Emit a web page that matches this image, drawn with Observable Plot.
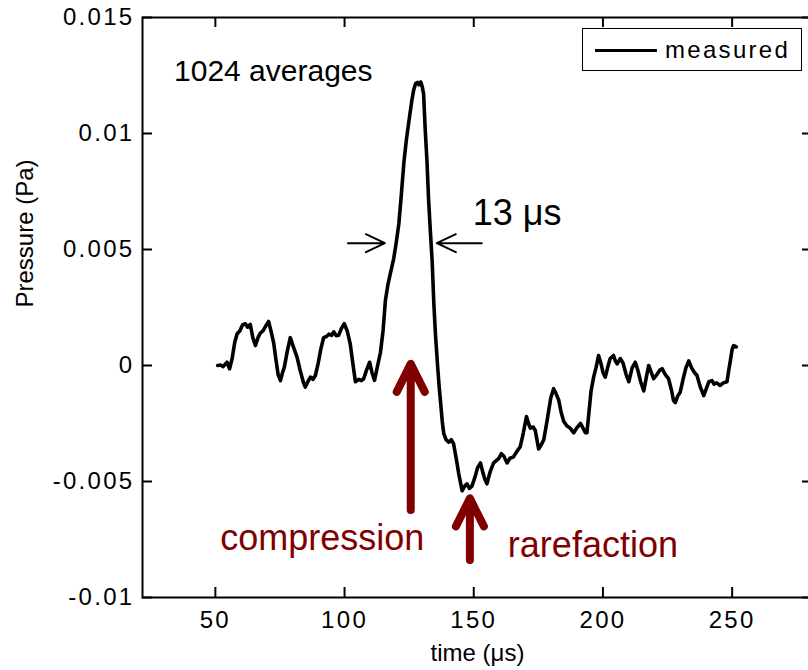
<!DOCTYPE html>
<html><head><meta charset="utf-8">
<script src="https://cdn.jsdelivr.net/npm/d3@7"></script>
<script src="https://cdn.jsdelivr.net/npm/@observablehq/plot@0.6"></script>
<style>
body{margin:0;overflow:hidden;background:#fff;font-family:Arial,"Liberation Sans",sans-serif}
#wrap{position:relative;width:808px;height:670px;overflow:hidden}
#wrap svg{max-width:none !important;height:670px !important}
g[aria-label="x-axis tick label"] text, g[aria-label="y-axis tick label"] text, g[aria-label="axis-title"] text{letter-spacing:2.3px}
g[aria-label="note"] text{letter-spacing:0.7px}
#legend{position:absolute;left:582px;top:28px;width:218px;height:41px;border:1.6px solid #000;background:#fff;box-sizing:content-box}
#legend .sw{position:absolute;left:12px;top:19.5px;width:62px;height:0;border-top:3px solid #000}
#legend .lb{position:absolute;left:82px;top:0;line-height:41px;font-size:24px;letter-spacing:2.3px;color:#000}
</style></head><body><div id="wrap"></div>
<script>
// measured trace: time (µs) and pressure (Pa)
const time = [50.9,52.0,53.0,54.5,55.5,56.5,57.5,58.4,59.5,60.5,61.6,62.5,63.5,64.5,65.5,66.5,67.4,68.5,69.5,70.6,71.5,72.6,73.5,74.3,75.2,76.0,76.7,77.8,79.0,80.2,81.6,82.8,84.0,84.8,85.8,86.8,87.8,88.7,89.8,90.8,91.9,93.0,94.0,95.0,95.8,96.8,97.7,98.8,99.9,101.0,102.2,103.2,104.2,105.5,106.5,107.4,108.5,109.7,110.6,111.6,112.8,113.9,114.9,115.8,116.8,117.8,119.0,120.0,121.0,122.0,123.0,124.0,125.0,126.0,126.8,127.5,128.2,128.8,129.5,130.1,130.6,131.2,131.9,132.5,133.2,133.9,134.5,135.2,136.0,136.6,137.1,137.8,138.4,139.3,140.3,141.3,142.2,143.2,144.2,145.5,146.5,147.4,148.3,149.3,150.5,151.5,152.6,153.5,154.3,155.1,156.3,157.7,158.7,159.7,160.7,161.6,162.9,164.0,165.3,166.7,168.0,169.2,170.4,171.2,171.9,173.0,173.8,175.1,176.2,177.1,178.5,179.8,180.9,181.8,182.9,183.8,184.8,186.0,187.3,188.7,189.8,191.3,192.3,193.2,193.8,194.6,195.4,196.4,197.3,198.3,199.2,200.0,200.9,201.8,202.8,204.1,204.8,205.5,206.7,207.8,209.0,210.0,211.3,212.5,213.5,214.6,215.8,216.8,217.7,218.7,219.6,220.8,222.0,222.9,224.2,225.4,226.6,227.3,228.0,229.0,229.9,231.0,232.1,233.2,234.3,235.4,236.4,237.6,239.0,240.0,241.0,242.2,243.0,244.0,245.4,246.6,248.0,248.7,249.3,250.0,250.6,251.6];
const pressure = [0.00000,0.00002,-0.00005,0.00014,-0.00014,0.00030,0.00100,0.00136,0.00150,0.00175,0.00180,0.00165,0.00177,0.00120,0.00086,0.00120,0.00140,0.00150,0.00170,0.00190,0.00150,0.00095,0.00020,-0.00040,-0.00065,-0.00030,-0.00007,0.00060,0.00120,0.00080,0.00036,-0.00020,-0.00070,-0.00093,-0.00070,-0.00050,-0.00060,-0.00043,0.00010,0.00070,0.00120,0.00125,0.00135,0.00130,0.00145,0.00128,0.00130,0.00160,0.00180,0.00150,0.00093,0.00010,-0.00070,-0.00060,-0.00065,-0.00057,-0.00020,0.00014,-0.00030,-0.00064,0.00000,0.00057,0.00150,0.00280,0.00350,0.00400,0.00460,0.00530,0.00610,0.00740,0.00880,0.00980,0.01060,0.01140,0.01190,0.01215,0.01220,0.01210,0.01222,0.01200,0.01170,0.01020,0.00880,0.00720,0.00580,0.00450,0.00280,0.00130,0.00000,-0.00090,-0.00150,-0.00240,-0.00294,-0.00320,-0.00330,-0.00320,-0.00338,-0.00400,-0.00467,-0.00540,-0.00520,-0.00510,-0.00530,-0.00520,-0.00480,-0.00440,-0.00420,-0.00460,-0.00490,-0.00510,-0.00460,-0.00420,-0.00410,-0.00400,-0.00380,-0.00390,-0.00420,-0.00400,-0.00395,-0.00370,-0.00350,-0.00290,-0.00220,-0.00250,-0.00270,-0.00265,-0.00280,-0.00360,-0.00340,-0.00320,-0.00230,-0.00140,-0.00100,-0.00120,-0.00150,-0.00200,-0.00240,-0.00260,-0.00270,-0.00290,-0.00270,-0.00250,-0.00270,-0.00290,-0.00290,-0.00200,-0.00110,-0.00050,-0.00010,0.00043,0.00010,-0.00030,-0.00050,-0.00010,0.00030,0.00043,0.00020,0.00007,0.00030,0.00010,-0.00040,-0.00070,-0.00010,0.00014,-0.00020,-0.00070,-0.00110,-0.00050,0.00000,-0.00030,-0.00057,-0.00040,-0.00020,-0.00014,-0.00040,-0.00057,-0.00110,-0.00150,-0.00160,-0.00130,-0.00115,-0.00060,-0.00010,0.00020,-0.00010,-0.00030,-0.00043,-0.00090,-0.00130,-0.00100,-0.00070,-0.00065,-0.00080,-0.00075,-0.00086,-0.00075,-0.00070,-0.00020,0.00020,0.00070,0.00086,0.00080];

const xTicks = [50, 100, 150, 200, 250];
const yTicks = [-0.01, -0.005, 0, 0.005, 0.01, 0.015];
const yTickLabels = ["-0.01", "-0.005", "0", "0.005", "0.01", "0.015"];
const xDomain = [21.8, 281.1];
const yDomain = [-0.01, 0.015];
const seriesName = "measured";
const xLabel = "time (μs)";
const yLabel = "Pressure (Pa)";

// annotations (data coordinates)
const blackNotes = [
  {text: "1024 averages", t: 34.0, p: 0.01268, size: 30},
  {text: "13 μs", t: 149.6, p: 0.00657, size: 36}
];
const redNotes = [
  {text: "compression", t: 51.9, p: -0.00744, size: 36},
  {text: "rarefaction", t: 163.2, p: -0.00777, size: 36}
];
const widthArrows = [
  {t1: 101.5, p1: 0.00525, t2: 115.8, p2: 0.00525},
  {t1: 153.3, p1: 0.00525, t2: 135.9, p2: 0.00525}
];
const redArrows = [
  {t1: 125.8, p1: -0.00625, t2: 125.8, p2: 0.00005},
  {t1: 148.7, p1: -0.0084, t2: 148.7, p2: -0.00575}
];

const W = 814, H = 670, mL = 142, mR = 2, mT = 17, mB = 73;
const fw = W - mL - mR, fh = H - mT - mB, tk = 10;

function arrowsMark(list, {stroke, sw, L, Wd}) {
  return (index, scales) => {
    const g = d3.create("svg:g").attr("fill", "none").attr("stroke", stroke)
      .attr("stroke-width", sw).attr("stroke-linecap", "round").attr("stroke-linejoin", "round");
    for (const a of list) {
      const x1 = scales.x(a.t1), y1 = scales.y(a.p1), x2 = scales.x(a.t2), y2 = scales.y(a.p2);
      const ang = Math.atan2(y2 - y1, x2 - x1);
      const ux = Math.cos(ang), uy = Math.sin(ang);
      const bx = x2 - ux * L, by = y2 - uy * L;
      const px = -uy * Wd, py = ux * Wd;
      g.append("path").attr("d", `M${x1},${y1}L${x2 - ux * sw * 0.3},${y2 - uy * sw * 0.3}M${bx + px},${by + py}L${x2},${y2}L${bx - px},${by - py}`);
    }
    return g.node();
  };
}

const chart = Plot.plot({
  width: W, height: H,
  marginLeft: mL, marginRight: mR, marginTop: mT, marginBottom: mB,
  style: {fontFamily: "Arial, 'Liberation Sans', sans-serif", fontSize: "24px", color: "#000", background: "#fff", maxWidth: "none"},
  x: {domain: xDomain},
  y: {domain: yDomain},
  marks: [
    Plot.frame({stroke: "#000", strokeWidth: 2}),
    Plot.tickX(xTicks, {x: d => d, insetTop: fh - tk, stroke: "#000", strokeWidth: 2}),
    Plot.tickX(xTicks, {x: d => d, insetBottom: fh - tk, stroke: "#000", strokeWidth: 2}),
    Plot.tickY(yTicks, {y: d => d, insetRight: fw - tk, stroke: "#000", strokeWidth: 2}),
    Plot.tickY(yTicks, {y: d => d, insetLeft: fw - tk, stroke: "#000", strokeWidth: 2}),
    Plot.axisX(xTicks, {tickSize: 0, tickPadding: 13, label: null, fill: "#000"}),
    Plot.axisY(yTicks, {tickSize: 0, tickPadding: 8, label: null, fill: "#000",
      tickFormat: d => yTickLabels[yTicks.indexOf(d)]}),
    Plot.text([xLabel], {text: d => d, frameAnchor: "bottom", dy: 63, fontSize: 24, fill: "#000", ariaLabel: "axis-title"}),
    Plot.text([yLabel], {text: d => d, frameAnchor: "left", dx: -117, rotate: -90, fontSize: 24, fill: "#000", ariaLabel: "axis-title"}),
    Plot.line(time, {x: time, y: pressure, stroke: "#000", strokeWidth: 3.6, strokeLinejoin: "round"}),
    Plot.text(blackNotes, {x: "t", y: "p", text: "text", fontSize: d => d.size, textAnchor: "start", fill: "#000", ariaLabel: "note"}),
    Plot.text(redNotes, {x: "t", y: "p", text: "text", fontSize: d => d.size, textAnchor: "start", fill: "#800000", ariaLabel: "note"}),
    arrowsMark(widthArrows, {stroke: "#000", sw: 2, L: 19, Wd: 9}),
    arrowsMark(redArrows, {stroke: "#800000", sw: 8, L: 28, Wd: 14})
  ]
});

const wrap = document.getElementById("wrap");
wrap.appendChild(chart);
const leg = document.createElement("div");
leg.id = "legend";
leg.innerHTML = `<div class="sw"></div><div class="lb"></div>`;
leg.querySelector(".lb").textContent = seriesName;
wrap.appendChild(leg);
</script>
</body></html>
